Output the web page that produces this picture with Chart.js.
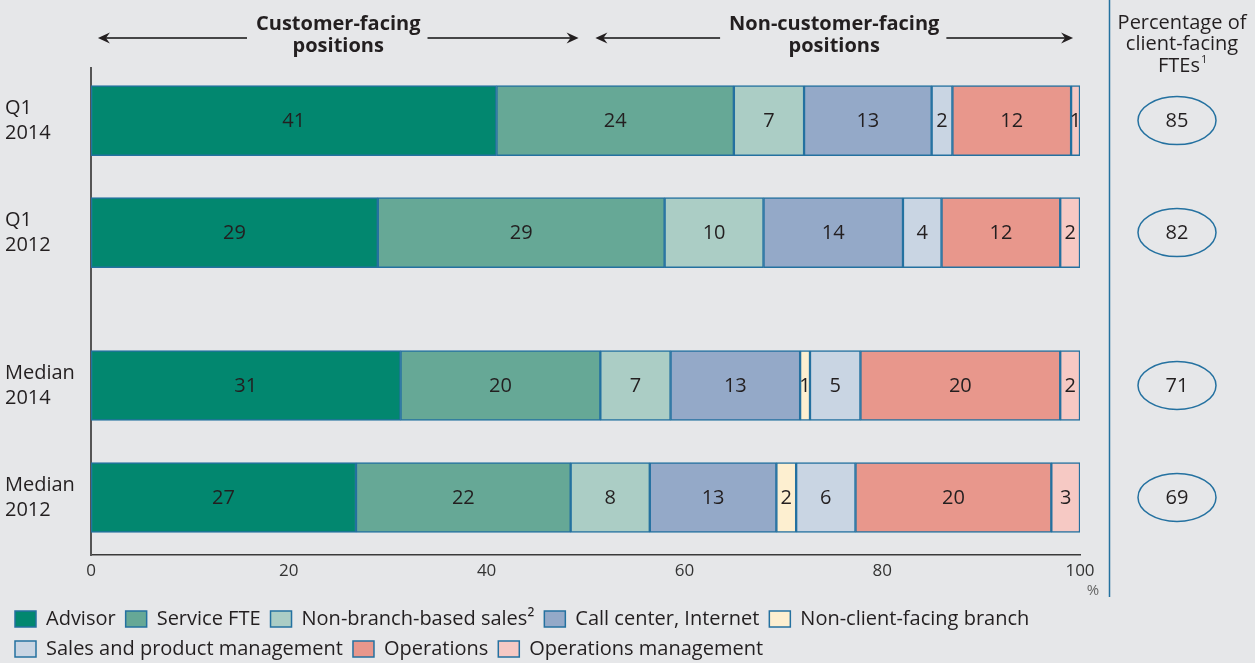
<!DOCTYPE html>
<html lang="en">
<head>
<meta charset="utf-8">
<title>Client-facing FTEs</title>
<script src="https://cdn.jsdelivr.net/npm/chart.js@4.4.1/dist/chart.umd.min.js"></script>
<style>
  body { margin: 0; background: #e6e7e9; }
  #wrap { position: relative; width: 1255px; height: 663px; }
</style>
</head>
<body>
<div id="wrap"><canvas id="chart"></canvas></div>
<script>
// categories (rows, top to bottom)
const categories = ['Q1 2014', 'Q1 2012', 'Median 2014', 'Median 2012'];
const seriesNames = ['Advisor', 'Service FTE', 'Non-branch-based sales\u00b2', 'Call center, Internet',
  'Non-client-facing branch', 'Sales and product management', 'Operations', 'Operations management'];

// shares in %, one array per series
const advisor         = [41, 29, 31.3, 26.8];
const serviceFte      = [24, 29, 20.2, 21.7];
const nonBranchSales  = [7.1, 10, 7.1, 8.0];
const callCenter      = [12.9, 14.1, 13.1, 12.8];
const nonClientBranch = [0, 0, 1.0, 2.0];
const salesProduct    = [2.1, 3.9, 5.1, 6.0];
const operations      = [12, 12, 20.2, 19.8];
const opsManagement   = [0.9, 2.0, 2.0, 2.9];

// percentage of client-facing FTEs (right column)
const clientFacingPct = [85, 82, 71, 69];

const xTicks = [0, 20, 40, 60, 80, 100];

// layout only: row positions on the y axis (gap between Q1 and Median rows)
const rowPos = [0, 1, 2.366, 3.366];
const colors = ['#02876f', '#66a896', '#abcdc5', '#94a9c8', '#fdefd0', '#c9d5e3', '#e8978c', '#f6c9c4'];
const edge = '#2471a0';
const ink = '#231f20';
const FONT = '"Open Sans", "Noto Sans", sans-serif';

const allSeries = [advisor, serviceFte, nonBranchSales, callCenter, nonClientBranch, salesProduct, operations, opsManagement];

const datasets = allSeries.map((vals, s) => ({
  label: seriesNames[s],
  data: vals.map((v, i) => ({ x: v, y: rowPos[i] })),
  backgroundColor: colors[s],
  borderColor: edge,
  borderWidth: 1.5,
  borderSkipped: false,
  barThickness: 70
}));

// numbers inside the segments
const segmentLabels = {
  id: 'segmentLabels',
  afterDatasetsDraw(chart) {
    const ctx = chart.ctx;
    ctx.save();
    ctx.font = '20px ' + FONT;
    ctx.fillStyle = ink;
    ctx.textAlign = 'center';
    ctx.textBaseline = 'middle';
    chart.data.datasets.forEach((ds, s) => {
      chart.getDatasetMeta(s).data.forEach((bar, i) => {
        const v = ds.data[i].x;
        if (!v) return;
        const p = bar.getCenterPoint();
        ctx.fillText(String(Math.round(v)), p.x, p.y + 1);
      });
    });
    ctx.restore();
  }
};

function arrowLine(ctx, from, to, y) {
  const dir = to > from ? 1 : -1;
  ctx.beginPath();
  ctx.moveTo(from, y);
  ctx.lineTo(to - dir * 6, y);
  ctx.stroke();
  ctx.beginPath();
  ctx.moveTo(to, y);
  ctx.lineTo(to - dir * 12, y - 5.5);
  ctx.lineTo(to - dir * 8, y);
  ctx.lineTo(to - dir * 12, y + 5.5);
  ctx.closePath();
  ctx.fill();
}

// headers, arrows, right column with ellipses
const extras = {
  id: 'extras',
  afterDraw(chart) {
    const ctx = chart.ctx;
    const xs = chart.scales.x, ys = chart.scales.y;
    ctx.save();

    // group headers with arrows
    const groups = [
      { from: 0.7, to: 49.3, lines: ['Customer-facing', 'positions'] },
      { from: 51, to: 99.3, lines: ['Non-customer-facing', 'positions'] }
    ];
    ctx.font = 'bold 20px ' + FONT;
    ctx.fillStyle = ink;
    ctx.strokeStyle = '#111';
    ctx.lineWidth = 1.6;
    ctx.textAlign = 'center';
    ctx.textBaseline = 'middle';
    groups.forEach(g => {
      const x1 = xs.getPixelForValue(g.from), x2 = xs.getPixelForValue(g.to);
      const cx = (x1 + x2) / 2;
      const w = Math.max(...g.lines.map(t => ctx.measureText(t).width));
      ctx.fillText(g.lines[0], cx, 24);
      ctx.fillText(g.lines[1], cx, 46);
      arrowLine(ctx, cx - w / 2 - 9, x1, 38);
      arrowLine(ctx, cx + w / 2 + 7, x2, 38);
    });

    // right column separator
    ctx.strokeStyle = edge;
    ctx.lineWidth = 1.5;
    ctx.beginPath();
    ctx.moveTo(1109.5, 0);
    ctx.lineTo(1109.5, 597);
    ctx.stroke();

    // right column header
    ctx.font = '20px ' + FONT;
    ctx.fillStyle = ink;
    ctx.fillText('Percentage of', 1182, 23);
    ctx.fillText('client-facing', 1182, 44);
    const wF = ctx.measureText('FTEs').width;
    ctx.textAlign = 'left';
    ctx.fillText('FTEs', 1182 - (wF + 6) / 2, 66);
    ctx.font = '11px ' + FONT;
    ctx.fillText('1', 1182 - (wF + 6) / 2 + wF + 1, 60);
    ctx.textAlign = 'center';

    // ellipses with the values
    ctx.font = '20px ' + FONT;
    clientFacingPct.forEach((v, i) => {
      const y = ys.getPixelForValue(rowPos[i]);
      ctx.beginPath();
      ctx.ellipse(1177, y, 39, 24, 0, 0, Math.PI * 2);
      ctx.strokeStyle = edge;
      ctx.lineWidth = 1.5;
      ctx.stroke();
      ctx.fillText(String(v), 1177, y + 1);
    });

    // unit under the x axis
    ctx.font = '15px ' + FONT;
    ctx.fillStyle = '#666';
    ctx.fillText('%', 1093, 591);
    ctx.restore();
  }
};

new Chart(document.getElementById('chart'), {
  type: 'bar',
  data: { datasets },
  options: {
    indexAxis: 'y',
    responsive: true,
    maintainAspectRatio: false,
    animation: false,
    layout: { padding: { top: 68, left: 5, right: 175, bottom: 0 } },
    scales: {
      x: {
        type: 'linear',
        stacked: true,
        min: 0,
        max: 100,
        afterBuildTicks: s => { s.ticks = xTicks.map(v => ({ value: v })); },
        grid: { display: false, drawTicks: false },
        border: { display: true, color: '#3a3a3a', width: 1.5 },
        ticks: { color: '#333', font: { family: FONT, size: 17 }, padding: 6 },
        afterFit: s => { s.height = 44; }
      },
      y: {
        type: 'linear',
        stacked: true,
        reverse: true,
        offset: false,
        min: -0.47,
        max: 3.88,
        afterBuildTicks: s => { s.ticks = rowPos.map(v => ({ value: v })); },
        grid: { display: false, drawTicks: false, offset: false },
        border: { display: true, color: '#555', width: 2 },
        ticks: {
          color: ink,
          crossAlign: 'far',
          font: { family: FONT, size: 20, lineHeight: 1.25 },
          callback: (v, i) => categories[i].split(' ')
        },
        afterFit: s => { s.width = 86; }
      }
    },
    plugins: {
      legend: {
        position: 'bottom',
        align: 'start',
        maxHeight: 64,
        labels: {
          color: ink,
          font: { family: FONT, size: 20 },
          boxWidth: 21,
          boxHeight: 16,
          padding: 10
        }
      },
      tooltip: { enabled: false }
    }
  },
  plugins: [segmentLabels, extras]
});
</script>
</body>
</html>
